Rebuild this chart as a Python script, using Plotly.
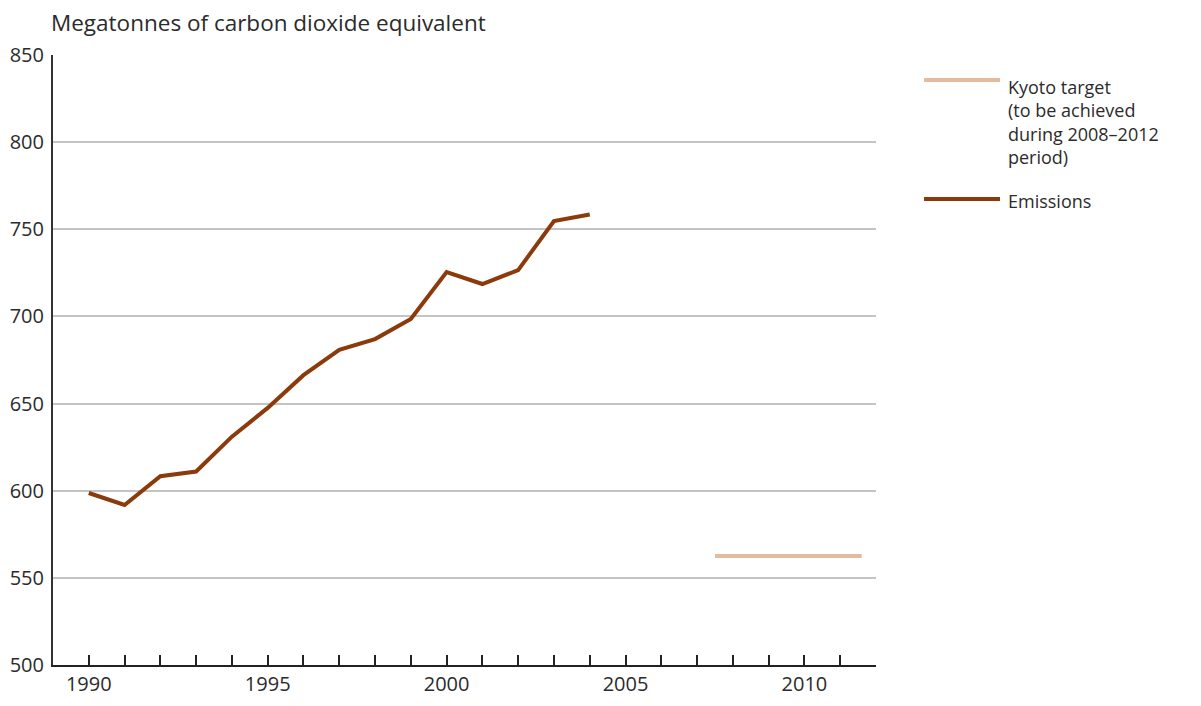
import plotly.graph_objects as go

years = list(range(1990, 2005))
emissions = [598.7, 591.8, 608.3, 611.0, 631.0, 647.5, 666.3, 680.8, 687.0, 698.5,
             725.5, 718.6, 726.6, 754.7, 758.5]
kyoto_years = [2007.5, 2011.6]
kyoto_target = [562.5, 562.5]

x_tickvals = [1990, 1995, 2000, 2005, 2010]
y_tickvals = [500, 550, 600, 650, 700, 750, 800, 850]

FONT = "Open Sans"
TXT = "#2b2b2b"
EMIS_COLOR = "#8a3a0b"
KYOTO_COLOR = "#e3bc9f"

# page body has an 8px default margin
OFF = 8
W, H = 1201 - 2 * OFF, 706 - 2 * OFF
L, T = 53 - OFF, 55 - OFF
PW, PH = 823, 610
R = W - L - PW
B = H - T - PH

fig = go.Figure()
fig.add_trace(go.Scatter(x=kyoto_years, y=kyoto_target, mode="lines",
                         line=dict(color=KYOTO_COLOR, width=4), name="Kyoto target",
                         showlegend=False))
fig.add_trace(go.Scatter(x=years, y=emissions, mode="lines",
                         line=dict(color=EMIS_COLOR, width=4), name="Emissions",
                         showlegend=False))

fig.update_layout(
    width=W, height=H,
    margin=dict(l=L, r=R, t=T, b=B),
    paper_bgcolor="white", plot_bgcolor="white",
    font=dict(family=FONT, size=20, color=TXT),
    showlegend=False,
    xaxis=dict(range=[1989, 2012], tickvals=x_tickvals, ticktext=[str(v) for v in x_tickvals],
               ticks="inside", ticklen=10, tickwidth=2, tickcolor="#222",
               minor=dict(dtick=1, tick0=1990, ticks="inside", ticklen=10, tickwidth=2, tickcolor="#222"),
               showline=True, linecolor="#222", linewidth=2, showgrid=False, zeroline=False,
               tickfont=dict(size=20, color=TXT), automargin=False),
    yaxis=dict(range=[500, 850], tickvals=y_tickvals, ticks="", showline=True, linecolor="#333",
               linewidth=2, showgrid=True, gridcolor="#c4c4c4", gridwidth=2, zeroline=False,
               tickfont=dict(size=20, color=TXT), ticklabelstandoff=3, automargin=False),
)

# Title
fig.add_annotation(text="Megatonnes of carbon dioxide equivalent", xref="paper", yref="paper",
                   x=0, y=1, yshift=33, xshift=-3, xanchor="left", yanchor="middle",
                   showarrow=False, borderpad=0, font=dict(size=22.5, color=TXT))

# Manual legend (screen px in reference)
legend_items = [
    ("Kyoto target<br>(to be achieved<br>during 2008–2012<br>period)", KYOTO_COLOR, 80, 7),
    ("Emissions", EMIS_COLOR, 199, 12),
]
for text, color, ypx, ys in legend_items:
    yp = 1 - (ypx - OFF - T) / PH
    fig.add_shape(type="line", xref="paper", yref="paper",
                  x0=(924 - OFF - L) / PW, x1=(1000 - OFF - L) / PW, y0=yp, y1=yp,
                  line=dict(color=color, width=4))
    fig.add_annotation(text=text, xref="paper", yref="paper", x=(1006 - OFF - L) / PW, y=yp,
                       yshift=ys, xanchor="left", yanchor="top", align="left", showarrow=False,
                       font=dict(size=18, color=TXT))

fig.write_html("out.html")
